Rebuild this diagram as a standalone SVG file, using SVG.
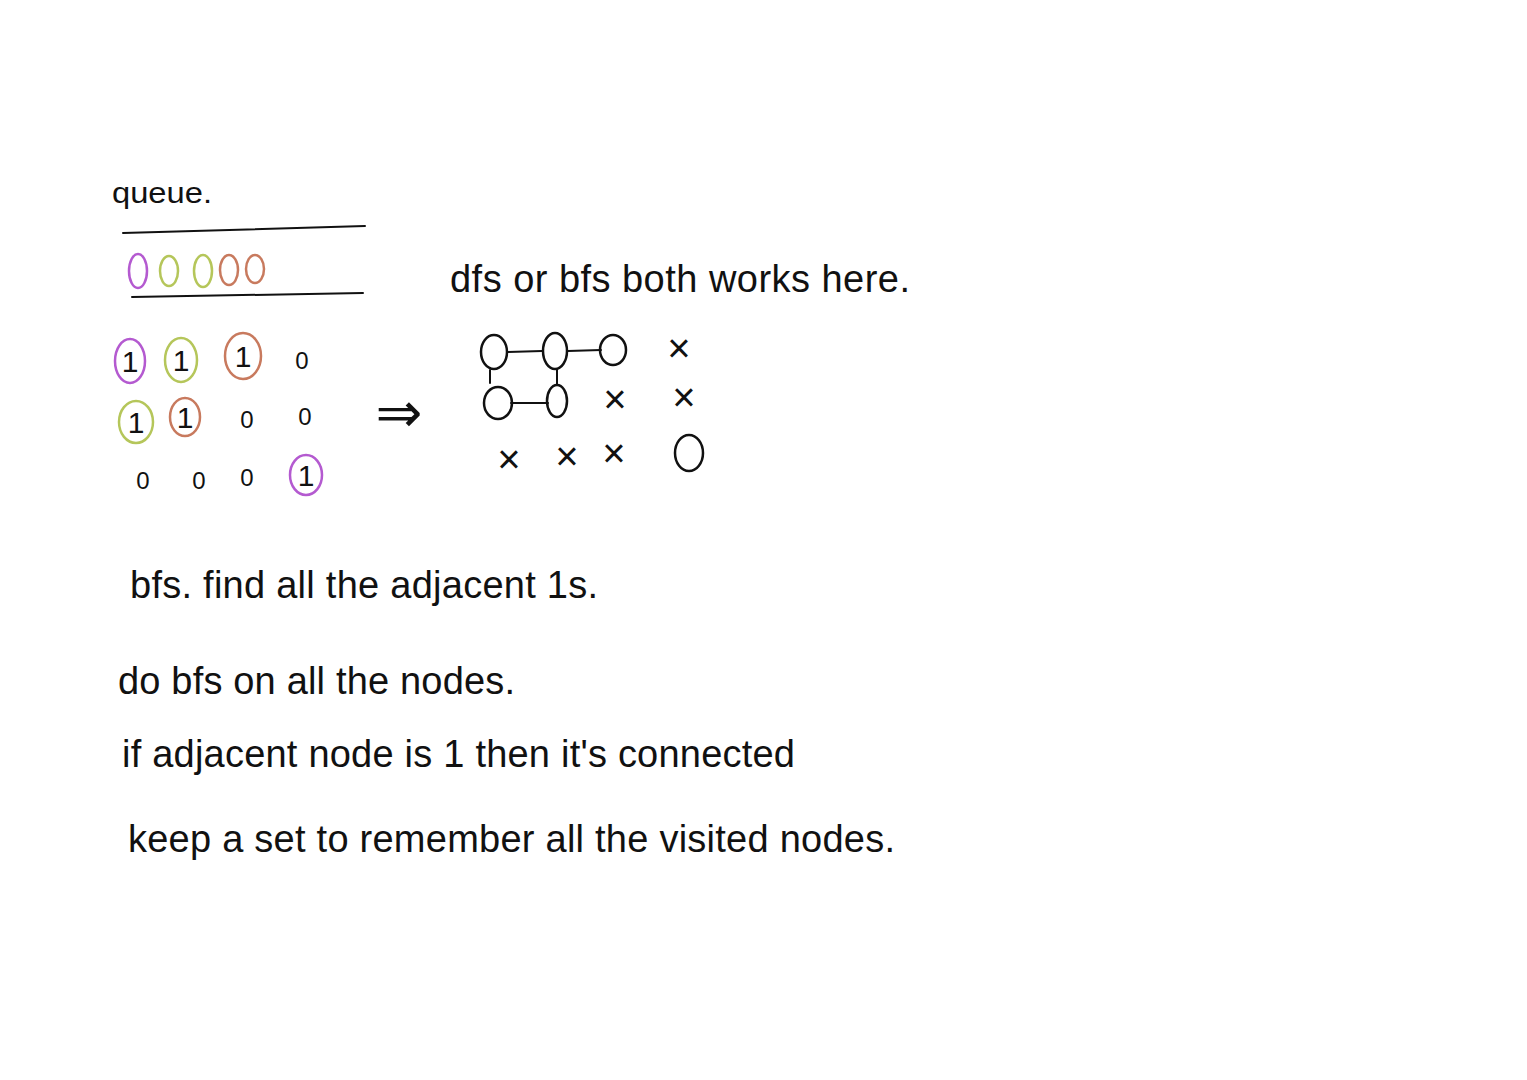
<svg xmlns="http://www.w3.org/2000/svg" width="1527" height="1080" viewBox="0 0 1527 1080">
<style>
.t{font-family:"Liberation Sans","DejaVu Sans",sans-serif;fill:#111;}
.ln{stroke:#111;stroke-width:2;fill:none;stroke-linecap:round;}
.p{stroke:#b45ad0;stroke-width:2.5;fill:none;}
.g{stroke:#b5c65a;stroke-width:2.5;fill:none;}
.o{stroke:#c87a5e;stroke-width:2.5;fill:none;}
.d{font-family:"Liberation Sans","DejaVu Sans",sans-serif;fill:#111;font-size:30px;text-anchor:middle;}
.z{font-family:"Liberation Sans","DejaVu Sans",sans-serif;fill:#111;font-size:24px;text-anchor:middle;}
.x{font-family:"Liberation Sans","DejaVu Sans",sans-serif;fill:#111;font-size:40px;text-anchor:middle;}
.n{stroke:#111;stroke-width:2.5;fill:none;}
</style>
<rect width="1527" height="1080" fill="#fff"/>

<g id="queue">
<text class="t" x="112" y="203" font-size="30" textLength="100" lengthAdjust="spacingAndGlyphs">queue.</text>
<line class="ln" x1="123" y1="233" x2="365" y2="226"/>
<ellipse class="p" cx="138" cy="271" rx="9" ry="17"/>
<ellipse class="g" cx="169" cy="271" rx="9" ry="15"/>
<ellipse class="g" cx="203" cy="271" rx="9" ry="16"/>
<ellipse class="o" cx="229" cy="270" rx="9" ry="15"/>
<ellipse class="o" cx="255" cy="269" rx="9" ry="14"/>
<line class="ln" x1="132" y1="297" x2="363" y2="293"/>
</g>

<g id="grid">
<ellipse class="p" cx="130" cy="361" rx="15" ry="22"/><text class="d" x="130" y="372">1</text>
<ellipse class="g" cx="181" cy="360" rx="16" ry="22"/><text class="d" x="181" y="371">1</text>
<ellipse class="o" cx="243" cy="356" rx="18" ry="23"/><text class="d" x="243" y="367">1</text>
<text class="z" x="302" y="369">0</text>
<ellipse class="g" cx="136" cy="422" rx="17" ry="21"/><text class="d" x="136" y="433">1</text>
<ellipse class="o" cx="185" cy="417" rx="15" ry="19"/><text class="d" x="185" y="428">1</text>
<text class="z" x="247" y="428">0</text>
<text class="z" x="305" y="425">0</text>
<text class="z" x="143" y="489">0</text>
<text class="z" x="199" y="489">0</text>
<text class="z" x="247" y="486">0</text>
<ellipse class="p" cx="306" cy="475" rx="16" ry="20"/><text class="d" x="306" y="486">1</text>
</g>

<g id="arrow">
<text class="t" x="399" y="432" font-size="56" text-anchor="middle">⇒</text>
</g>

<text class="t" x="450" y="292" font-size="38" textLength="460" lengthAdjust="spacing">dfs or bfs both works here.</text>

<g id="edges">
<line class="ln" x1="507" y1="352" x2="542" y2="351"/>
<line class="ln" x1="568" y1="351" x2="601" y2="350"/>
<line class="ln" x1="490" y1="370" x2="490" y2="383"/>
<line class="ln" x1="557" y1="370" x2="557" y2="385"/>
<line class="ln" x1="511" y1="403" x2="548" y2="403"/>
</g>
<g id="node-a"><ellipse class="n" cx="494" cy="352" rx="13" ry="17"/></g>
<g id="node-b"><ellipse class="n" cx="555" cy="351" rx="12" ry="18"/></g>
<g id="node-c"><ellipse class="n" cx="613" cy="350" rx="13" ry="15"/></g>
<g id="node-d"><ellipse class="n" cx="498" cy="403" rx="14" ry="16"/></g>
<g id="node-e"><ellipse class="n" cx="557" cy="401" rx="10" ry="16"/></g>
<g id="node-f"><ellipse class="n" cx="689" cy="453" rx="14" ry="18"/></g>
<g id="marks">
<text class="x" x="679" y="362">×</text>
<text class="x" x="615" y="413">×</text>
<text class="x" x="684" y="411">×</text>
<text class="x" x="509" y="473">×</text>
<text class="x" x="567" y="470">×</text>
<text class="x" x="614" y="467">×</text>
</g>

<text class="t" x="130" y="598" font-size="38" textLength="468" lengthAdjust="spacing">bfs. find all the adjacent 1s.</text>
<text class="t" x="118" y="694" font-size="38" textLength="397" lengthAdjust="spacing">do bfs on all the nodes.</text>
<text class="t" x="122" y="767" font-size="38" textLength="673" lengthAdjust="spacing">if adjacent node is 1 then it's connected</text>
<text class="t" x="128" y="852" font-size="38" textLength="767" lengthAdjust="spacing">keep a set to remember all the visited nodes.</text>
</svg>
